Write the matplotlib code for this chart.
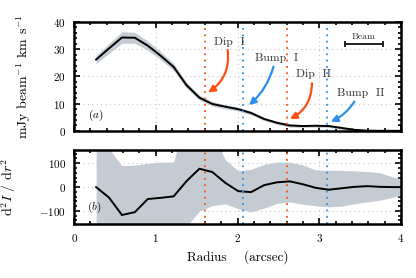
import matplotlib
matplotlib.use("Agg")
import matplotlib.pyplot as plt
import numpy as np
from matplotlib.ticker import MultipleLocator

plt.rcParams.update({
    "font.family": "serif",
    "font.serif": ["cmr10"],
    "mathtext.fontset": "cm",
    "axes.formatter.use_mathtext": True,
    "axes.unicode_minus": True,
    "font.size": 8,
})

# radial grid (arcsec)
radius = [0.27, 0.428, 0.586, 0.744, 0.902, 1.06, 1.218, 1.376, 1.534, 1.692,
          1.85, 2.008, 2.166, 2.324, 2.482, 2.64, 2.798, 2.956, 3.114, 3.272,
          3.43, 3.588, 3.746, 3.904, 4.062]

# (a) intensity profile and its uncertainty
intensity = [26.2, 30.3, 34.3, 34.2, 31.3, 27.6, 23.5, 16.8, 12.2, 9.9,
             8.9, 8.0, 6.6, 4.4, 3.0, 2.0, 1.8, 1.9, 1.8, 1.1,
             0.4, 0.1, 0.05, 0.05, 0.05]
intensity_err = [1.5, 1.8, 2.1, 2.0, 1.7, 1.5, 1.3, 1.1, 0.9, 0.8,
                 0.8, 0.7, 0.7, 0.6, 0.6, 0.6, 0.5, 0.5, 0.5, 0.5,
                 0.5, 0.4, 0.4, 0.4, 0.4]

# (b) second derivative and its envelope
d2 = [0, -44, -117, -105, -50, -45, -39, 25, 77, 63,
      18, -17, -21, 8, 20, 24, 12, -3, -11, -5,
      1, 4, 1, 0, 0]
d2_upper = [300, 160, 90, 92, 100, 104, 106, 300, 300, 220,
            115, 68, 75, 95, 105, 105, 93, 72, 70, 70,
            68, 65, 60, 42, 30]
d2_lower = [-300, -300, -300, -300, -300, -300, -300, -165, -100, -78,
            -70, -90, -104, -88, -68, -62, -72, -78, -83, -80,
            -70, -62, -55, -42, -30]

dips = [1.60, 2.60]
bumps = [2.07, 3.10]

# annotations: label, text position, arrow tail, arrow head, colour key
labels = ["Dip  I", "Bump  I", "Dip  II", "Bump  II"]
label_xy = [(1.90, 32.8), (2.48, 26.7), (2.93, 20.9), (3.51, 14.1)]
arrow_tail = [(1.88, 29.7), (2.44, 23.6), (2.91, 17.5), (3.43, 10.8)]
arrow_head = [(1.64, 14.1), (2.14, 9.5), (2.64, 4.4), (3.14, 3.4)]
label_kind = ["dip", "bump", "dip", "bump"]

beam_center, beam_y, beam_width = 3.545, 31.9, 0.46

ORANGE = "#ff4f14"
BLUE = "#2b8fea"
BAND = "#c5cbd3"
colors = {"dip": ORANGE, "bump": BLUE}

fig = plt.figure(figsize=(4.16, 2.78), dpi=100)
ax1 = fig.add_axes([0.178, 0.529, 0.786, 0.392])
ax2 = fig.add_axes([0.178, 0.194, 0.786, 0.266], sharex=ax1)

r = np.array(radius)
I = np.array(intensity)
Ie = np.array(intensity_err)

ax1.fill_between(r, I - Ie, I + Ie, color=BAND, lw=0)
ax1.plot(r, I, color="black", lw=1.4)
ax2.fill_between(r, d2_lower, d2_upper, color=BAND, lw=0)
ax2.plot(r, d2, color="black", lw=1.4)

for ax in (ax1, ax2):
    for x in dips:
        ax.axvline(x, color=ORANGE, ls=(0, (1, 2.5)), lw=1.3)
    for x in bumps:
        ax.axvline(x, color=BLUE, ls=(0, (1, 2.5)), lw=1.3)
    ax.grid(True, which="major", color="#c8c8c8", ls=(0, (1, 3)), lw=0.8)
    ax.set_axisbelow(True)
    ax.xaxis.set_major_locator(MultipleLocator(1))
    ax.xaxis.set_minor_locator(MultipleLocator(0.2))
    ax.tick_params(which="both", direction="in", top=True, right=True, width=1.2)
    ax.tick_params(which="major", length=4, labelsize=8, pad=6)
    ax.tick_params(which="minor", length=2)
    for sp in ax.spines.values():
        sp.set_linewidth(1.8)
    ax.set_xlim(0, 4)

ax1.set_ylim(0, 40)
ax1.yaxis.set_major_locator(MultipleLocator(10))
ax1.yaxis.set_minor_locator(MultipleLocator(2))
ax1.tick_params(axis="x", labelbottom=False)
ax1.set_ylabel(r"mJy beam$^{-1}$ km s$^{-1}$", fontsize=10)
ax1.yaxis.set_label_coords(-0.125, 0.5)
ax1.text(0.26, 5.9, r"$(a)$", fontsize=8, ha="center", va="center")

ax2.set_ylim(-155, 155)
ax2.yaxis.set_major_locator(MultipleLocator(100))
ax2.yaxis.set_minor_locator(MultipleLocator(20))
ax2.set_ylabel(r"d$^2I$ / d$r^2$", fontsize=10)
ax2.yaxis.set_label_coords(-0.171, 0.5)
ax2.set_xlabel("Radius    (arcsec)", fontsize=9.5)
ax2.text(0.24, -83, r"$(b)$", fontsize=8, ha="center", va="center")

for lab, txy, tail, head, kind in zip(labels, label_xy, arrow_tail, arrow_head, label_kind):
    c = colors[kind]
    ax1.text(txy[0], txy[1], lab, fontsize=8.5, ha="center", va="center", color="#333333")
    rad = -0.3 if kind == "dip" else -0.15
    ax1.annotate("", xy=head, xytext=tail,
                 arrowprops=dict(arrowstyle="-|>,head_length=0.5,head_width=0.25",
                                 color=c, lw=1.6,
                                 connectionstyle=f"arc3,rad={rad}",
                                 shrinkA=0, shrinkB=0))

ax1.errorbar(beam_center, beam_y, xerr=beam_width / 2, color="black",
             capsize=2.5, lw=1.2, capthick=1.2)
ax1.text(beam_center, beam_y + 2.8, "Beam", fontsize=7, ha="center", va="center",
         color="#333333")

fig.savefig("out.png", dpi=100)
